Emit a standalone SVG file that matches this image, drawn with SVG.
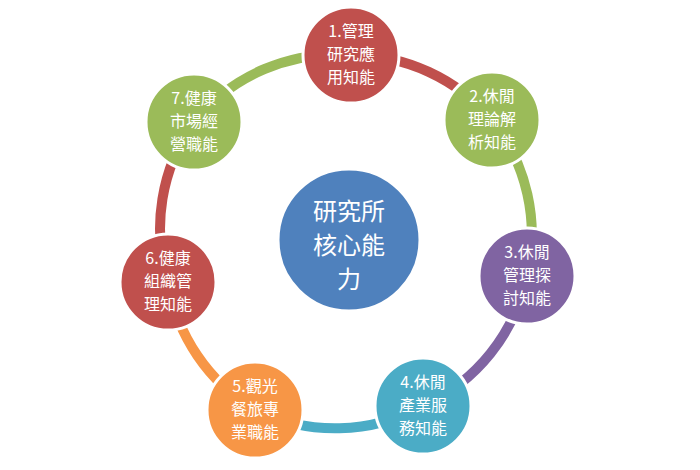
<svg xmlns="http://www.w3.org/2000/svg" width="700" height="470" viewBox="0 0 700 470">
<style>
.arc{fill:none;stroke-width:10}
.n{stroke:#fff;stroke-width:3}
text{fill:#fff;font-family:"Noto Sans CJK TC","Liberation Sans",sans-serif;text-anchor:middle}
.s{font-size:16px}
.b{font-size:24px}
</style>
<rect width="700" height="470" fill="#fff"/>
<g id="connectors">
<path class="arc" stroke="#C0504D" d="M351 55 A184 184 0 0 1 492 120"/>
<path class="arc" stroke="#9BBB59" d="M492 120 A184 184 0 0 1 527 276"/>
<path class="arc" stroke="#8064A2" d="M527 276 A184 184 0 0 1 423 406"/>
<path class="arc" stroke="#4BACC6" d="M423 406 A184 184 0 0 1 255 410"/>
<path class="arc" stroke="#F79646" d="M255 410 A184 184 0 0 1 168 282"/>
<path class="arc" stroke="#C0504D" d="M168 282 A184 184 0 0 1 194 122"/>
<path class="arc" stroke="#9BBB59" d="M194 122 A184 184 0 0 1 351 55"/>
</g>
<g id="center"><circle class="n" cx="349" cy="240" r="71" fill="#4F81BD"/>
<text class="b" x="349" y="220">研究所</text><text class="b" x="349" y="254">核心能</text><text class="b" x="349" y="288">力</text></g>
<g id="n1"><circle class="n" cx="351" cy="55" r="48" fill="#C0504D"/>
<text class="s" x="351" y="37">1.管理</text><text class="s" x="351" y="60">研究應</text><text class="s" x="351" y="83">用知能</text></g>
<g id="n2"><circle class="n" cx="492" cy="120" r="48" fill="#9BBB59"/>
<text class="s" x="492" y="102">2.休閒</text><text class="s" x="492" y="125">理論解</text><text class="s" x="492" y="148">析知能</text></g>
<g id="n3"><circle class="n" cx="527" cy="276" r="48" fill="#8064A2"/>
<text class="s" x="527" y="258">3.休閒</text><text class="s" x="527" y="281">管理探</text><text class="s" x="527" y="304">討知能</text></g>
<g id="n4"><circle class="n" cx="423" cy="406" r="48" fill="#4BACC6"/>
<text class="s" x="423" y="388">4.休閒</text><text class="s" x="423" y="411">產業服</text><text class="s" x="423" y="434">務知能</text></g>
<g id="n5"><circle class="n" cx="255" cy="410" r="48" fill="#F79646"/>
<text class="s" x="255" y="392">5.觀光</text><text class="s" x="255" y="415">餐旅專</text><text class="s" x="255" y="438">業職能</text></g>
<g id="n6"><circle class="n" cx="168" cy="282" r="48" fill="#C0504D"/>
<text class="s" x="168" y="264">6.健康</text><text class="s" x="168" y="287">組織管</text><text class="s" x="168" y="310">理知能</text></g>
<g id="n7"><circle class="n" cx="194" cy="122" r="48" fill="#9BBB59"/>
<text class="s" x="194" y="104">7.健康</text><text class="s" x="194" y="127">市場經</text><text class="s" x="194" y="150">營職能</text></g>
</svg>
